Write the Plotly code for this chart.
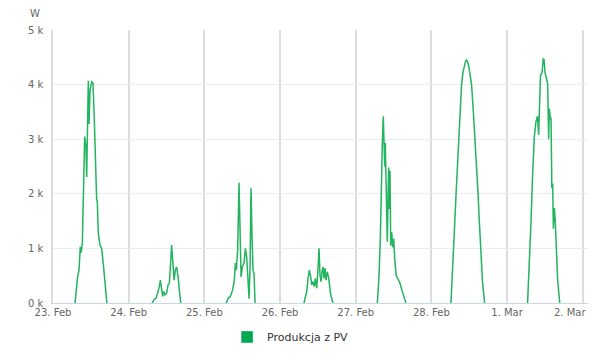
import datetime as dt
import plotly.graph_objects as go

# ---- data (hour of day, power in W) ----
days = ["2023-02-23", "2023-02-24", "2023-02-25", "2023-02-26",
        "2023-02-27", "2023-02-28", "2023-03-01"]

feb23_h = [7.0, 7.8, 8.25, 8.65, 8.95, 9.3, 9.7, 10.05, 10.45, 10.68, 10.9, 11.2, 11.42, 11.75,
           12.25, 12.68, 13.1, 13.5, 13.85, 14.05, 14.37, 14.9, 15.44, 16.1, 17.1]
feb23_w = [0, 480, 600, 1030, 920, 1100, 2130, 3050, 2860, 2310, 3050, 4070, 3280, 3900,
           4050, 4030, 3350, 2380, 1890, 1860, 1280, 1060, 1000, 620, 0]

feb24_h = [7.42, 8.15, 8.7, 9.2, 9.73, 10.05, 10.46, 10.78, 11.1, 11.54, 12.05, 12.49, 12.9,
           13.44, 13.63, 13.95, 14.4, 14.8, 15.2, 15.66, 16.07, 16.49]
feb24_w = [0, 70, 90, 180, 300, 420, 210, 120, 210, 150, 180, 330, 360,
           790, 1060, 790, 420, 600, 660, 480, 180, 0]

feb25_h = [6.88, 7.61, 8.24, 8.97, 9.51, 9.83, 10.15, 10.56, 11.0, 11.32, 11.64, 12.05, 12.59,
           13.0, 13.41, 13.85, 14.17, 14.49, 14.8, 15.12, 15.44, 15.76, 16.07]
feb25_w = [0, 90, 120, 240, 420, 730, 600, 970, 2200, 970, 480, 660, 730,
           1000, 850, 420, 80, 660, 2100, 1210, 600, 540, 0]

feb26_h = [7.6, 8.46, 8.88, 9.29, 9.73, 10.05, 10.46, 10.87, 11.19, 11.64, 12.05, 12.37, 12.68,
           13.0, 13.32, 13.63, 13.95, 14.27, 14.58, 15.0, 15.44, 16.07, 16.8]
feb26_w = [0, 210, 450, 600, 480, 330, 390, 300, 450, 270, 640, 1000, 510,
           390, 570, 660, 450, 640, 420, 570, 450, 150, 0]

feb27_h = [6.85, 7.39, 7.8, 8.12, 8.43, 8.75, 8.97, 9.19, 9.38, 9.7, 10.02, 10.24, 10.46, 10.65,
           10.87, 11.1, 11.41, 11.73, 12.05, 12.37, 12.87, 13.5, 14.05, 14.58, 15.1, 15.9]
feb27_w = [0, 500, 1170, 2300, 2900, 3420, 3020, 2500, 2930, 2220, 1120, 1920, 2480, 1720,
           2420, 1050, 1300, 1020, 1180, 800, 500, 430, 360, 250, 150, 0]

feb28_h = [6.2, 6.63, 7.04, 7.45, 7.83, 8.22, 8.62, 9.1, 9.57, 10.0, 10.4, 10.8, 11.1, 11.48,
           11.8, 12.27, 12.74, 13.31, 13.85, 14.33, 14.8, 15.2, 15.66, 16.2, 16.87]
feb28_w = [0, 450, 1000, 1520, 2000, 2500, 3000, 3550, 4000, 4220, 4360, 4420, 4450, 4420,
           4350, 4200, 4000, 3500, 3000, 2500, 2000, 1500, 1000, 400, 0]

mar01_h = [6.5, 7.07, 7.6, 8.12, 8.65, 9.19, 9.65, 10.02, 10.33, 10.6, 11.1, 11.45, 11.73, 12.05,
           12.46, 12.87, 13.19, 13.42, 13.7, 13.95, 14.2, 14.46, 14.68, 15.0, 15.31, 15.63,
           16.04, 16.7]
mar01_w = [0, 660, 1500, 2380, 3050, 3330, 3420, 3080, 3720, 4170, 4220, 4470, 4460, 4210,
           4120, 4020, 3000, 3560, 3380, 3380, 2100, 2190, 1360, 1740, 1480, 1000,
           420, 0]

tick_dates = ["2023-02-23", "2023-02-24", "2023-02-25", "2023-02-26", "2023-02-27",
              "2023-02-28", "2023-03-01", "2023-03-02"]
tick_labels = ["23. Feb", "24. Feb", "25. Feb", "26. Feb", "27. Feb", "28. Feb", "1. Mar",
               "2. Mar"]
y_ticks = [0, 1000, 2000, 3000, 4000, 5000]
y_labels = ["0 k", "1 k", "2 k", "3 k", "4 k", "5 k"]

series_name = "Produkcja z PV"
unit_label = "W"

# ---- build series ----
hours = [feb23_h, feb24_h, feb25_h, feb26_h, feb27_h, feb28_h, mar01_h]
watts = [feb23_w, feb24_w, feb25_w, feb26_w, feb27_w, feb28_w, mar01_w]
xs, ys = [], []
for d, hh, ww in zip(days, hours, watts):
    base = dt.datetime.fromisoformat(d)
    for h, w in zip(hh, ww):
        xs.append(base + dt.timedelta(hours=h))
        ys.append(w)
    xs.append(None)
    ys.append(None)

green = "#22b45e"
font = "DejaVu Sans"
label_color = "#666666"

# last tick label is justified inside the chart (drawn as an annotation at its tick)
shown_ticktext = tick_labels[:-1] + [""]

fig = go.Figure()
fig.add_trace(go.Scatter(x=xs, y=ys, mode="lines", line=dict(color=green, width=1.5),
                         showlegend=False, connectgaps=False))
fig.add_trace(go.Bar(x=[None], y=[None], name=series_name, marker=dict(color="#00a84f"),
                     showlegend=True))

fig.update_layout(
    width=593, height=360,
    margin=dict(l=53, r=5, t=30, b=57),
    paper_bgcolor="white", plot_bgcolor="white",
    font=dict(family=font, size=10, color=label_color),
    showlegend=True,
    legend=dict(orientation="h", xref="container", x=0.49, xanchor="center",
                yref="container", y=0.064, yanchor="middle",
                font=dict(family=font, size=11, color="#333333"),
                bgcolor="rgba(0,0,0,0)"),
    xaxis=dict(type="date", range=["2023-02-23 00:00", "2023-03-02 01:40"],
               tickmode="array", tickvals=tick_dates, ticktext=shown_ticktext,
               showgrid=True, gridcolor="#dcdcdc", gridwidth=1.5,
               showline=True, linecolor="#ccd6eb", linewidth=1,
               ticks="", zeroline=False, tickfont=dict(size=10, color=label_color),
               automargin=False),
    yaxis=dict(range=[0, 5000], tickmode="array", tickvals=y_ticks, ticktext=y_labels,
               showgrid=True, gridcolor="#e8eef6", gridwidth=1,
               zeroline=False, showline=True, linecolor="#dcdcdc", linewidth=1.5,
               ticks="", ticklabelstandoff=6, automargin=False,
               tickfont=dict(size=10, color=label_color)),
    annotations=[
        dict(text=unit_label, xref="paper", yref="paper",
             x=-0.0345, y=1.062, xanchor="center", yanchor="middle",
             showarrow=False, font=dict(family=font, size=10, color=label_color)),
        dict(text=tick_labels[-1], xref="x", yref="paper",
             x=tick_dates[-1], y=0, xanchor="right", yanchor="top",
             xshift=5, yshift=-2, showarrow=False,
             font=dict(family=font, size=10, color=label_color)),
    ],
)

fig.write_html("out.html", config={"displayModeBar": False},
               post_script="document.body.style.margin='0';")
